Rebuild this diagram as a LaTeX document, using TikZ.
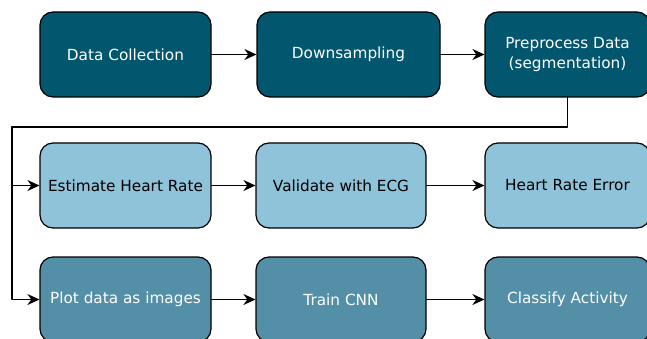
\documentclass[tikz,border=0pt]{standalone}
\usepackage{fontspec}
\setmainfont{DejaVu Sans}
\usetikzlibrary{arrows.meta}
\definecolor{darkteal}{HTML}{02566E}
\definecolor{lightblue}{HTML}{8FC3D9}
\definecolor{midteal}{HTML}{548FA8}
\begin{document}
\begin{tikzpicture}[x=1pt, y=-1pt, line join=round, line cap=round,
		>={Stealth[length=12pt,width=11pt]},
		font=\fontsize{15.3}{20}\selectfont,
		box/.style={draw=black, line width=1.2pt, rounded corners=13pt, minimum height=85pt, align=center, inner sep=0pt},
		topbox/.style={box, fill=darkteal, text=white},
		hrbox/.style={box, fill=lightblue, text=black},
		cnnbox/.style={box, fill=midteal, text=white},
		link/.style={->, line width=1.2pt}]
	\useasboundingbox (0,0) rectangle (647,339);
	\clip (0,0) rectangle (647,339);
	% first row
	\node[topbox, minimum width=171pt] (collect) at (125.5,54.5) {Data Collection};
	\node[topbox, minimum width=183pt] (down) at (348.5,54.5) {Downsampling};
	\node[topbox, minimum width=165pt] (prep) at (567.5,54.5) {Preprocess Data\\(segmentation)};
	% heart rate row
	\node[hrbox, minimum width=171pt] (est) at (125.5,185.5) {Estimate Heart Rate};
	\node[hrbox, minimum width=170pt] (ecg) at (341,185.5) {Validate with ECG};
	\node[hrbox, minimum width=165pt] (hrerr) at (567.5,185.5) {Heart Rate Error};
	% activity row
	\node[cnnbox, minimum width=171pt] (plot) at (125.5,299.5) {Plot data as images};
	\node[cnnbox, minimum width=170pt] (cnn) at (341,299.5) {Train CNN};
	\node[cnnbox, minimum width=165pt] (activity) at (567.5,299.5) {Classify Activity};
	\draw[link] (collect) -- (down);
	\draw[link] (down) -- (prep);
	\draw[link] (est) -- (ecg);
	\draw[link] (ecg) -- (hrerr);
	\draw[link] (plot) -- (cnn);
	\draw[link] (cnn) -- (activity);
	\coordinate (split) at (12,127);
	\draw[link] (prep.south) |- (split) |- (plot.west);
	\draw[link] (split) |- (est.west);
\end{tikzpicture}
\end{document}
